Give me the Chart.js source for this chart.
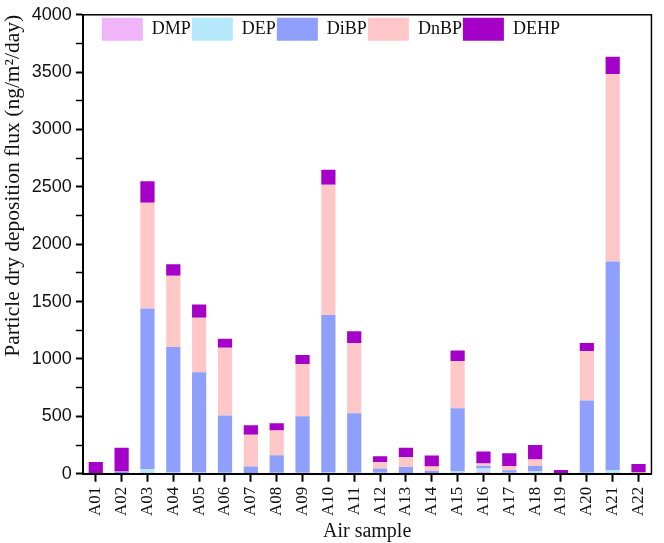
<!DOCTYPE html>
<html>
<head>
<meta charset="utf-8">
<script src="https://cdn.jsdelivr.net/npm/chart.js@4.4.1/dist/chart.umd.min.js"></script>
<style>
  html, body { margin: 0; padding: 0; background: #fff; }
  #wrap { width: 664px; height: 543px; position: relative; }
</style>
</head>
<body>
<div id="wrap"><canvas id="c"></canvas></div>
<script>
const SERIF = "'Liberation Serif', 'Times New Roman', serif";
const SANS = "'Liberation Sans', Arial, sans-serif";

const samples = ['A01', 'A02', 'A03', 'A04', 'A05', 'A06', 'A07', 'A08', 'A09', 'A10', 'A11',
  'A12', 'A13', 'A14', 'A15', 'A16', 'A17', 'A18', 'A19', 'A20', 'A21', 'A22'];

// ng/m2/day
const dmp = [0, 0, 0, 0, 0, 0, 0, 0, 0, 0, 0, 0, 0, 0, 0, 20, 0, 4, 0, 0, 0, 0];
const dep = [2, 5, 40, 10, 10, 8, 5, 8, 8, 10, 8, 8, 6, 6, 20, 25, 8, 15, 0, 8, 30, 2];
const dibp = [0, 12, 1400, 1095, 875, 500, 57, 153, 494, 1373, 520, 37, 52, 18, 551, 25, 22, 48, 0, 631, 1819, 0];
const dnbp = [3, 3, 921, 621, 475, 589, 277, 215, 452, 1135, 612, 56, 86, 38, 411, 20, 37, 57, 3, 429, 1636, 8];
const dehp = [98, 207, 189, 100, 114, 80, 83, 63, 80, 132, 102, 52, 83, 97, 92, 103, 111, 126, 30, 72, 149, 74];

const COLORS = {
  dmp: '#F0B4FA',
  dep: '#B6E8FC',
  dibp: '#8FA0FC',
  dnbp: '#FFC7C7',
  dehp: '#A500C8',
};

const ds = (label, data, color) => ({
  label,
  data,
  backgroundColor: color,
  borderWidth: 0,
  stack: 'flux',
  categoryPercentage: 1,
  barPercentage: 0.55,
});

// box around the plot area
const frame = {
  id: 'frame',
  afterDatasetsDraw(chart) {
    const { ctx, chartArea: a } = chart;
    ctx.save();
    ctx.strokeStyle = '#000';
    ctx.lineWidth = 1.5;
    ctx.strokeRect(a.left, a.top, a.right - a.left, a.bottom - a.top);
    ctx.restore();
  },
};

// legend sits inside the plot as a single row
const legendInside = {
  id: 'legendInside',
  afterInit(chart) {
    if (chart.legend) chart.legend.isHorizontal = () => true;
  },
  afterLayout(chart) {
    const lg = chart.legend;
    if (lg) {
      lg.left = chart.chartArea.left + 18;
      lg.top = chart.chartArea.top + 2;
    }
  },
};

new Chart(document.getElementById('c'), {
  type: 'bar',
  data: {
    labels: samples,
    datasets: [
      ds('DMP', dmp, COLORS.dmp),
      ds('DEP', dep, COLORS.dep),
      ds('DiBP', dibp, COLORS.dibp),
      ds('DnBP', dnbp, COLORS.dnbp),
      ds('DEHP', dehp, COLORS.dehp),
    ],
  },
  options: {
    responsive: true,
    maintainAspectRatio: false,
    animation: false,
    layout: { padding: { left: 0, top: 8, right: 3, bottom: 0 } },
    plugins: {
      legend: {
        position: 'chartArea',
        align: 'start',
        labels: {
          boxWidth: 41,
          boxHeight: 23,
          padding: 1,
          color: '#111',
          font: { family: SERIF, size: 18 },
        },
      },
      tooltip: { enabled: false },
    },
    scales: {
      x: {
        stacked: true,
        border: { color: '#000', width: 2 },
        grid: { offset: false, drawOnChartArea: false, drawTicks: true, tickLength: 8, tickColor: '#000', tickWidth: 2 },
        ticks: {
          color: '#111',
          minRotation: 90,
          maxRotation: 90,
          autoSkip: false,
          padding: 5,
          font: { family: SERIF, size: 17 },
        },
        title: { display: true, text: 'Air sample', color: '#111', padding: { top: 0, bottom: 0 }, font: { family: SERIF, size: 20, lineHeight: 1.1 } },
      },
      y: {
        stacked: true,
        min: 0,
        max: 4000,
        border: { color: '#000', width: 2 },
        grid: {
          drawOnChartArea: false,
          drawTicks: true,
          tickLength: 7,
          tickColor: '#000',
          tickWidth: (c) => (c.tick && c.tick.value % 500 === 0 ? 2 : 1.5),
        },
        ticks: {
          stepSize: 250,
          autoSkip: false,
          color: '#111',
          padding: 4,
          font: { family: SANS, size: 18 },
          callback: (v) => (v % 500 === 0 ? v : ''),
        },
        title: {
          display: true,
          text: 'Particle dry deposition flux (ng/m\u00B2/day)',
          align: 'end',
          color: '#111',
          padding: { top: 0, bottom: 2 },
          font: { family: SERIF, size: 21.5 },
        },
      },
    },
  },
  plugins: [frame, legendInside],
});
</script>
</body>
</html>
